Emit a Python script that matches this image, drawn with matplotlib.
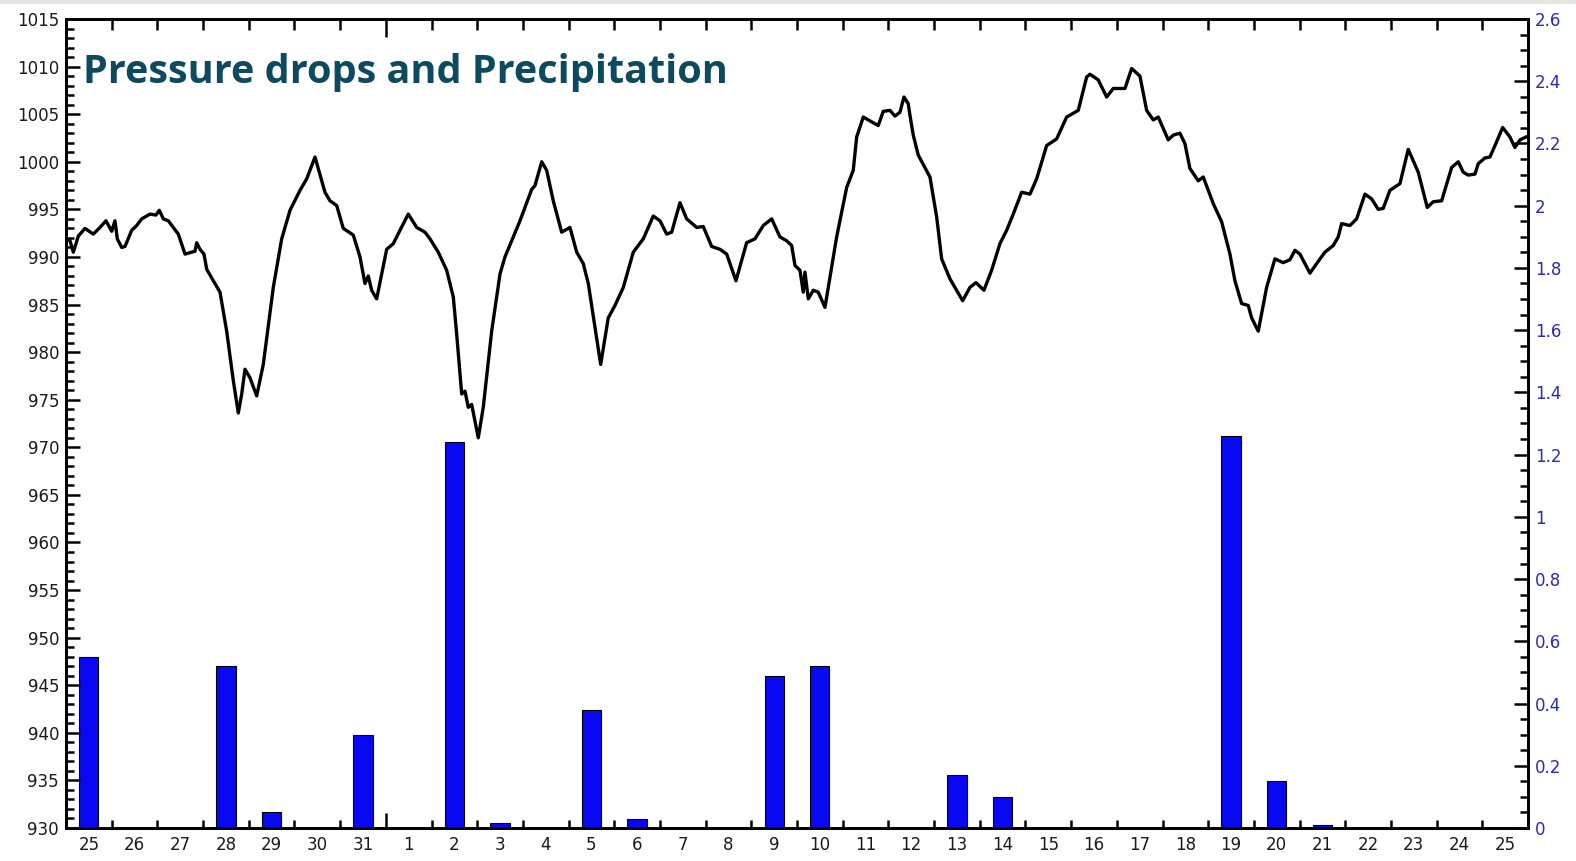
#!/usr/bin/env python3

import numpy as np
from matplotlib import pyplot as plt
from matplotlib.patches import Rectangle
from matplotlib.ticker import MultipleLocator, FixedLocator, FuncFormatter

# day labels (one per day, 25th of month to 25th of next month)
day_labels = ['25', '26', '27', '28', '29', '30', '31', '1', '2', '3', '4',
              '5', '6', '7', '8', '9', '10', '11', '12', '13', '14', '15',
              '16', '17', '18', '19', '20', '21', '22', '23', '24', '25']

# daily precipitation (right axis)
precip = [0.55, 0, 0, 0.52, 0.05, 0, 0.30, 0, 1.24, 0.015, 0,
          0.38, 0.03, 0, 0, 0.49, 0.52, 0, 0, 0.17, 0.10, 0,
          0, 0, 0, 1.26, 0.15, 0.01, 0, 0, 0, 0]

# pressure trace: time in days from the start, pressure in hPa (left axis)
t_days = [0.015, 0.088, 0.16, 0.27, 0.416, 0.597, 0.744, 0.875, 1.0, 1.072,
          1.123, 1.219, 1.291, 1.438, 1.547, 1.657, 1.838, 1.97, 2.042, 2.13,
          2.239, 2.348, 2.458, 2.605, 2.823, 2.861, 2.933, 3.02, 3.08, 3.224,
          3.371, 3.517, 3.662, 3.771, 3.846, 3.918, 4.027, 4.174, 4.318, 4.537,
          4.721, 4.903, 5.122, 5.268, 5.45, 5.668, 5.778, 5.925, 6.069, 6.288,
          6.435, 6.544, 6.616, 6.69, 6.8, 7.019, 7.164, 7.31, 7.492, 7.676,
          7.857, 7.967, 8.148, 8.332, 8.477, 8.551, 8.661, 8.733, 8.805, 8.879,
          9.024, 9.133, 9.317, 9.499, 9.608, 9.79, 9.937, 10.193, 10.265, 10.412,
          10.521, 10.665, 10.849, 11.031, 11.178, 11.322, 11.432, 11.578, 11.703, 11.869,
          12.016, 12.198, 12.416, 12.635, 12.854, 13.001, 13.147, 13.257, 13.438, 13.585,
          13.804, 13.948, 14.132, 14.314, 14.461, 14.664, 14.898, 15.08, 15.262, 15.446,
          15.627, 15.774, 15.883, 15.956, 16.065, 16.137, 16.174, 16.247, 16.356, 16.465,
          16.612, 16.868, 17.087, 17.231, 17.306, 17.45, 17.597, 17.778, 17.888, 18.034,
          18.144, 18.253, 18.341, 18.435, 18.472, 18.545, 18.654, 18.8, 18.91, 19.057,
          19.166, 19.348, 19.626, 19.785, 19.917, 20.092, 20.26, 20.442, 20.589, 20.733,
          20.917, 21.099, 21.245, 21.464, 21.683, 21.902, 22.156, 22.34, 22.412, 22.594,
          22.778, 22.922, 23.178, 23.325, 23.506, 23.653, 23.797, 23.907, 24.126, 24.235,
          24.382, 24.491, 24.6, 24.782, 24.892, 25.111, 25.294, 25.476, 25.585, 25.732,
          25.877, 25.951, 26.096, 26.279, 26.461, 26.642, 26.789, 26.898, 27.008, 27.227,
          27.373, 27.555, 27.737, 27.846, 27.921, 28.102, 28.249, 28.431, 28.577, 28.722,
          28.831, 28.978, 29.197, 29.379, 29.598, 29.795, 29.926, 30.11, 30.329, 30.473,
          30.583, 30.692, 30.839, 30.911, 31.058, 31.167, 31.277, 31.445, 31.605, 31.714,
          31.824, 32.0]
pressure_hpa = [991.9, 991.7, 990.5, 992.2, 993.0, 992.4, 993.1, 993.8, 992.7, 993.8,
                991.9, 991.0, 991.1, 992.8, 993.3, 994.0, 994.5, 994.4, 994.9, 994.0,
                993.8, 993.1, 992.4, 990.3, 990.6, 991.5, 990.8, 990.3, 988.7, 987.5,
                986.3, 982.2, 977.0, 973.6, 975.6, 978.2, 977.3, 975.4, 978.7, 986.8,
                991.9, 994.9, 997.0, 998.2, 1000.5, 996.8, 995.9, 995.4, 993.0, 992.3,
                990.0, 987.2, 988.0, 986.5, 985.6, 990.8, 991.4, 992.8, 994.5, 993.1,
                992.6, 991.9, 990.5, 988.6, 985.8, 981.9, 975.6, 975.9, 974.2, 974.5,
                971.0, 974.2, 982.2, 988.2, 990.0, 992.1, 993.8, 997.1, 997.5, 1000.0,
                999.1, 995.9, 992.6, 993.1, 990.5, 989.3, 987.2, 982.6, 978.7, 983.6,
                984.9, 986.8, 990.5, 991.9, 994.3, 993.8, 992.4, 992.6, 995.7, 994.0,
                993.1, 993.2, 991.1, 990.8, 990.3, 987.5, 991.5, 991.9, 993.3, 994.0,
                992.1, 991.7, 991.2, 989.1, 988.6, 986.3, 988.4, 985.6, 986.5, 986.3,
                984.7, 992.1, 997.3, 999.1, 1002.6, 1004.7, 1004.3, 1003.8, 1005.3, 1005.4,
                1004.8, 1005.2, 1006.8, 1006.1, 1004.9, 1002.8, 1000.7, 999.4, 998.4, 994.2,
                989.8, 987.7, 985.4, 986.8, 987.3, 986.5, 988.6, 991.4, 992.8, 994.5,
                996.8, 996.6, 998.2, 1001.7, 1002.4, 1004.7, 1005.4, 1008.9, 1009.2, 1008.6,
                1006.8, 1007.7, 1007.7, 1009.8, 1009.0, 1005.4, 1004.4, 1004.7, 1002.3, 1002.8,
                1003.0, 1001.9, 999.3, 998.0, 998.4, 995.6, 993.7, 990.3, 987.5, 985.1,
                984.9, 983.6, 982.2, 986.8, 989.8, 989.4, 989.7, 990.7, 990.3, 988.3,
                989.3, 990.5, 991.2, 992.1, 993.5, 993.3, 994.0, 996.6, 996.1, 995.0,
                995.1, 997.0, 997.7, 1001.3, 998.9, 995.2, 995.8, 995.9, 999.4, 1000.0,
                998.9, 998.6, 998.7, 999.8, 1000.4, 1000.5, 1001.7, 1003.6, 1002.6, 1001.5,
                1002.3, 1002.7]

title = 'Pressure drops and Precipitation'
month_break = 7  # boundary between 31 and 1

fig = plt.figure(figsize=(15.76, 8.61), dpi=100)
fig.patches.append(Rectangle((0, 1 - 4 / 861), 1, 4 / 861, transform=fig.transFigure,
                             facecolor='#e6e6e6', edgecolor='none'))

ax = fig.add_axes([66 / 1576, 33 / 861, 1462 / 1576, 809 / 861])
ax2 = ax.twinx()

# precipitation bars on the right axis
centers = np.arange(len(day_labels)) + 0.5
vals = np.array(precip)
mask = vals > 0
ax2.bar(centers[mask], vals[mask], width=0.42, color='#0808f2',
        edgecolor='black', linewidth=0.8)

# pressure line on the left axis
ax.plot(t_days, pressure_hpa, color='black', linewidth=2.4)
ax.set_zorder(ax2.get_zorder() + 1)
ax.patch.set_visible(False)

ax.set_xlim(0, len(day_labels))
ax.set_ylim(930, 1015)
ax2.set_ylim(0, 2.6)

for a in (ax, ax2):
    for s in a.spines.values():
        s.set_linewidth(2.0)

# left axis ticks
ax.yaxis.set_major_locator(MultipleLocator(5))
ax.yaxis.set_minor_locator(MultipleLocator(1))
ax.tick_params(axis='y', which='major', direction='in', length=10, width=1.8,
               labelsize=12, pad=5, labelcolor='#1a1a1a')
ax.tick_params(axis='y', which='minor', direction='in', length=6, width=1.8)

# right axis ticks
ax2.yaxis.set_major_locator(MultipleLocator(0.2))
ax2.yaxis.set_minor_locator(MultipleLocator(0.05))
ax2.yaxis.set_major_formatter(FuncFormatter(lambda v, p: '%g' % round(v, 2)))
ax2.tick_params(axis='y', which='major', direction='in', length=10, width=1.8,
                labelsize=12, pad=5, labelcolor='#2a2ab4')
ax2.tick_params(axis='y', which='minor', direction='in', length=6, width=1.8)

# x axis: tick marks on day boundaries, labels at day centres
ax.xaxis.set_major_locator(FixedLocator(np.arange(1, len(day_labels))))
ax.xaxis.set_minor_locator(FixedLocator(centers))
ax.xaxis.set_major_formatter(FuncFormatter(lambda v, p: ''))
ax.xaxis.set_minor_formatter(FuncFormatter(lambda v, p: day_labels[int(v)]))
ax.tick_params(axis='x', which='major', direction='in', length=6, width=1.8,
               top=True, bottom=True)
ax.tick_params(axis='x', which='minor', length=0, labelsize=12, pad=6,
               labelcolor='#1a1a1a')
top_len = 8
for tk in ax.xaxis.get_major_ticks():
    tk.tick2line.set_markersize(top_len)
mt = ax.xaxis.get_major_ticks()[month_break - 1]
mt.tick1line.set_markersize(11)
mt.tick2line.set_markersize(13)

ax.text(17 / 1462, (828 - 83) / 809, title, transform=ax.transAxes,
        fontsize=28.5, fontweight='bold', family='Open Sans', color='#0d4a5f',
        va='baseline', ha='left')

fig.savefig('out.png', dpi=100)
